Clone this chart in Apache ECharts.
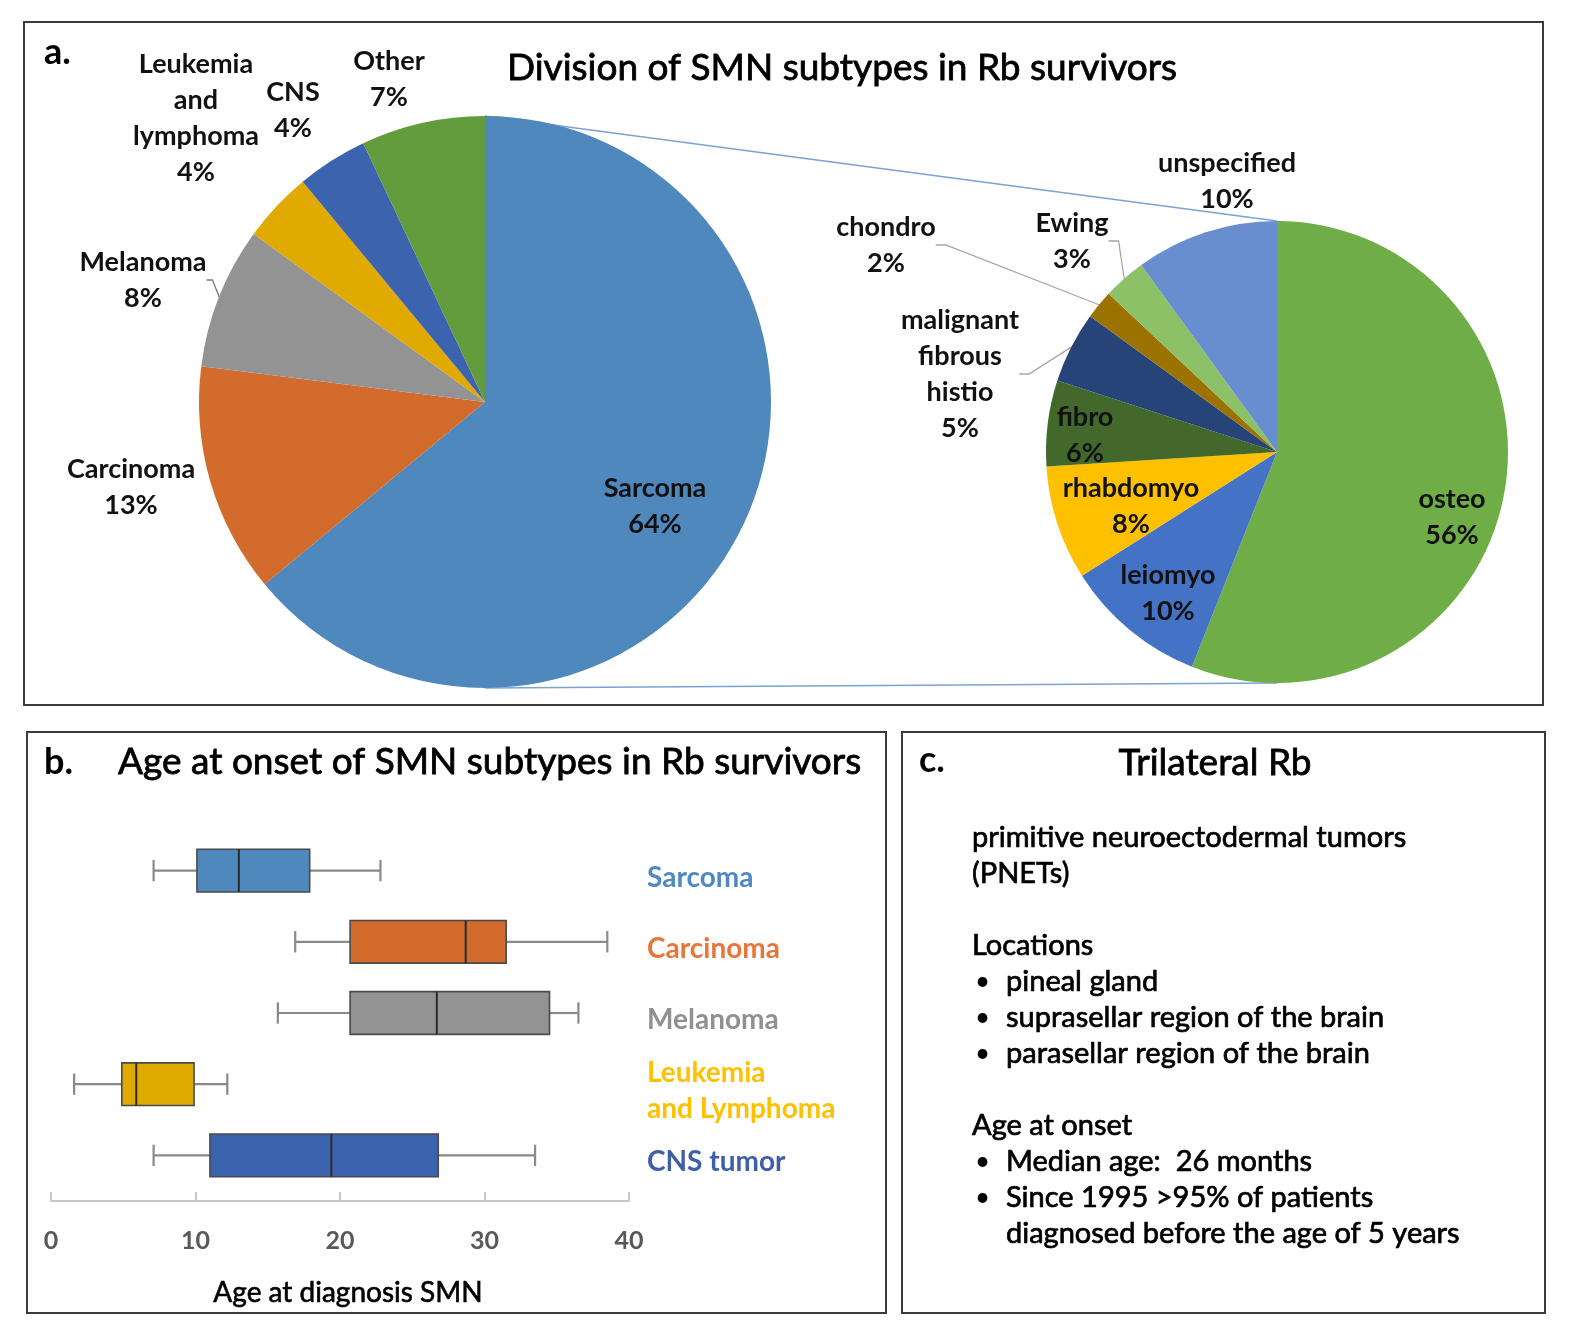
<!DOCTYPE html>
<html><head><meta charset="utf-8">
<script src="https://cdn.jsdelivr.net/npm/echarts@6/dist/echarts.min.js"></script>
<style>html,body{margin:0;padding:0;background:#fff}#c{width:1574px;height:1342px}</style>
</head><body><div id="c"></div>
<script>
// ---------- data ----------
const smnNames = ['Sarcoma', 'Carcinoma', 'Melanoma', 'Leukemia and lymphoma', 'CNS', 'Other'];
const smnValues = [64, 13, 8, 4, 4, 7];
const sarcomaNames = ['osteo', 'leiomyo', 'rhabdomyo', 'fibro', 'malignant fibrous histio', 'chondro', 'Ewing', 'unspecified'];
const sarcomaValues = [56, 10, 8, 6, 5, 2, 3, 10];
const boxCategories = ['Sarcoma', 'Carcinoma', 'Melanoma', 'Leukemia\nand Lymphoma', 'CNS tumor'];
const boxMin    = [7.1, 16.9, 15.7, 1.6, 7.1];
const boxQ1     = [10.1, 20.7, 20.7, 4.9, 11.0];
const boxMedian = [13.0, 28.7, 26.7, 5.9, 19.4];
const boxQ3     = [17.9, 31.5, 34.5, 9.9, 26.8];
const boxMax    = [22.8, 38.5, 36.5, 12.2, 33.5];
const xTicks = [0, 10, 20, 30, 40];
const panelCLines = [
  'primitive neuroectodermal tumors', '(PNETs)', '',
  'Locations', '• pineal gland', '• suprasellar region of the brain', '• parasellar region of the brain', '',
  'Age at onset', '• Median age:  26 months', '• Since 1995 >95% of patients', '  diagnosed before the age of 5 years'
];

// ---------- styles ----------
const FONT = 'Lato, "Open Sans", sans-serif';
const smnColors = ['#4f88bd', '#d26b2b', '#939393', '#e0aa00', '#3c63ad', '#629c3c'];
const sarcomaColors = ['#6fad47', '#4472c4', '#ffc000', '#43682b', '#264478', '#9c7200', '#8cc168', '#698ed0'];
const boxColors = ['#4f88bd', '#d26b2b', '#939393', '#e0aa00', '#3c63ad'];
const boxLabelColors = ['#4f88c4', '#e8753a', '#909090', '#ffc000', '#3f5fa8'];
const PIE1 = { c: [485, 402], r: 286 };
const PIE2 = { c: [1277, 452], r: 231 };
const pie1LabelPos = [[655, 506], [131, 487], [143, 280], [196, 118], [293, 110], [389, 79]];
const pie2LabelPos = [[1452, 517], [1168, 593], [1131, 506], [1085, 435], [960, 374], [886, 245], [1072, 241], [1227, 181]];
const pie1Leader = [false, false, true, false, false, false];
const pie2Leader = [false, false, false, false, true, true, true, false];

function pieData(names, values, colors, leaders) {
  return names.map((n, i) => ({
    name: n, value: values[i],
    itemStyle: { color: colors[i] },
    labelLine: { show: leaders[i] }
  }));
}
const labelStyle = {
  show: true, position: 'outside', color: '#111', fontFamily: FONT, fontWeight: 'bold',
  fontSize: 27, lineHeight: 36, align: 'center',
  formatter: p => p.name.replace(/ /g, '\n') + '\n' + p.value + '%'
};

const chart = echarts.init(document.getElementById('c'), null, { renderer: 'canvas' });

const graphics = [];
// panel frames
[[24, 22, 1519, 683], [27, 732, 859, 581], [902, 732, 643, 581]].forEach(r => {
  graphics.push({ type: 'rect', shape: { x: r[0], y: r[1], width: r[2], height: r[3] },
    style: { fill: 'none', stroke: '#3a3a3a', lineWidth: 2 }, z: 0 });
});
// connectors between pies
graphics.push({ type: 'line', shape: { x1: PIE1.c[0], y1: PIE1.c[1] - PIE1.r, x2: PIE2.c[0], y2: PIE2.c[1] - PIE2.r },
  style: { stroke: '#7aa3d3', lineWidth: 1.3 }, z: 0 });
graphics.push({ type: 'line', shape: { x1: PIE1.c[0], y1: PIE1.c[1] + PIE1.r, x2: PIE2.c[0], y2: PIE2.c[1] + PIE2.r },
  style: { stroke: '#7aa3d3', lineWidth: 1.3 }, z: 0 });
// titles / text
function txt(x, y, t, size, weight, align, strokeW) {
  const style = { text: t, fontFamily: FONT, fontSize: size, fontWeight: weight, fill: '#000',
      align: align || 'left', verticalAlign: 'middle' };
  if (strokeW) { style.stroke = '#000'; style.lineWidth = strokeW; }
  graphics.push({ type: 'text', x: x, y: y, z: 10, style: style });
}
txt(44, 52, 'a.', 36, 'bold');
txt(842, 68, 'Division of SMN subtypes in Rb survivors', 37, 'normal', 'center', 0.8);
txt(44, 762, 'b.', 36, 'bold');
txt(118, 762, 'Age at onset of SMN subtypes in Rb survivors', 37, 'normal', 'left', 0.8);
txt(919, 760, 'c.', 36, 'bold');
txt(1215, 763, 'Trilateral Rb', 37, 'normal', 'center', 0.8);
panelCLines.forEach((line, i) => {
  const y = 838 + i * 36;
  if (!line) return;
  if (line.startsWith('• ')) {
    txt(975, y, '•', 26, 'normal');
    txt(1006, y, line.slice(2), 29, 'normal', 'left', 0.7);
  } else if (line.startsWith('  ')) {
    txt(1006, y, line.slice(2), 29, 'normal', 'left', 0.7);
  } else {
    txt(972, y, line, 29, 'normal', 'left', 0.7);
  }
});

const option = {
  animation: false,
  backgroundColor: '#fff',
  graphic: graphics,
  grid: { left: 51, right: 1574 - 629, top: 835, bottom: 1342 - 1191, containLabel: false },
  xAxis: {
    type: 'value', min: xTicks[0], max: xTicks[xTicks.length - 1], interval: 10, offset: 10,
    axisLine: { show: true, lineStyle: { color: '#c8c8c8', width: 2 } },
    axisTick: { show: true, inside: true, length: 9, lineStyle: { color: '#c8c8c8', width: 2 } },
    splitLine: { show: false },
    axisLabel: { color: '#595959', fontFamily: FONT, fontWeight: 'bold', fontSize: 25, margin: 27 },
    name: 'Age at diagnosis SMN', nameLocation: 'middle', nameGap: 78,
    nameTextStyle: { color: '#000', fontFamily: FONT, fontSize: 28, fontWeight: 'normal',
      textBorderColor: '#000', textBorderWidth: 0.6, padding: [0, 0, 0, 16] }
  },
  yAxis: {
    type: 'category', data: boxCategories, inverse: true, position: 'right',
    axisLine: { show: false }, axisTick: { show: false }, splitLine: { show: false },
    axisLabel: { show: false }
  },
  series: [
    {
      type: 'pie', center: PIE1.c, radius: PIE1.r, startAngle: 90, clockwise: true,
      avoidLabelOverlap: false, silent: true,
      data: pieData(smnNames, smnValues, smnColors, pie1Leader),
      itemStyle: { borderWidth: 0 },
      label: labelStyle,
      labelLine: { length: 6, length2: 6, lineStyle: { color: '#777', width: 1.3 } },
      labelLayout: p => ({ x: pie1LabelPos[p.dataIndex][0], y: pie1LabelPos[p.dataIndex][1], align: 'center', verticalAlign: 'middle' })
    },
    {
      type: 'pie', center: PIE2.c, radius: PIE2.r, startAngle: 90, clockwise: true,
      avoidLabelOverlap: false, silent: true,
      data: pieData(sarcomaNames, sarcomaValues, sarcomaColors, pie2Leader),
      itemStyle: { borderWidth: 0 },
      label: labelStyle,
      labelLine: { length: 10, length2: 10, lineStyle: { color: '#a6a6a6', width: 1.3 } },
      labelLayout: p => ({ x: pie2LabelPos[p.dataIndex][0], y: pie2LabelPos[p.dataIndex][1], align: 'center', verticalAlign: 'middle' })
    },
    {
      type: 'custom',
      data: boxCategories.map((c, i) => [i, boxMin[i], boxQ1[i], boxMedian[i], boxQ3[i], boxMax[i]]),
      encode: { x: [1, 2, 3, 4, 5], y: 0 },
      renderItem: (params, api) => {
        const i = params.dataIndex;
        const cat = api.value(0);
        const pLo = api.coord([api.value(1), cat]);
        const pQ1 = api.coord([api.value(2), cat]);
        const pMed = api.coord([api.value(3), cat]);
        const pQ3 = api.coord([api.value(4), cat]);
        const pHi = api.coord([api.value(5), cat]);
        const pEnd = api.coord([xTicks[xTicks.length - 1], cat]);
        const band = api.size([0, 1])[1];
        const h = band * 0.6;
        const cap = h * 0.5;
        const y = pLo[1];
        const wStyle = { stroke: '#8a8a8a', lineWidth: 2.2 };
        return {
          type: 'group', children: [
            { type: 'line', shape: { x1: pLo[0], y1: y, x2: pQ1[0], y2: y }, style: wStyle },
            { type: 'line', shape: { x1: pQ3[0], y1: y, x2: pHi[0], y2: y }, style: wStyle },
            { type: 'line', shape: { x1: pLo[0], y1: y - cap / 2, x2: pLo[0], y2: y + cap / 2 }, style: wStyle },
            { type: 'line', shape: { x1: pHi[0], y1: y - cap / 2, x2: pHi[0], y2: y + cap / 2 }, style: wStyle },
            { type: 'rect', shape: { x: pQ1[0], y: y - h / 2, width: pQ3[0] - pQ1[0], height: h },
              style: { fill: boxColors[i], stroke: '#4a4a4a', lineWidth: 1.6 } },
            { type: 'line', shape: { x1: pMed[0], y1: y - h / 2, x2: pMed[0], y2: y + h / 2 },
              style: { stroke: '#2a2a2a', lineWidth: 2 } },
            { type: 'text', x: pEnd[0] + 18, y: y + 7,
              style: { text: boxCategories[i], fill: boxLabelColors[i], fontFamily: FONT, fontWeight: 'bold',
                fontSize: 28, lineHeight: 36, align: 'left', verticalAlign: 'middle' } }
          ]
        };
      }
    }
  ]
};
chart.setOption(option);
</script></body></html>
